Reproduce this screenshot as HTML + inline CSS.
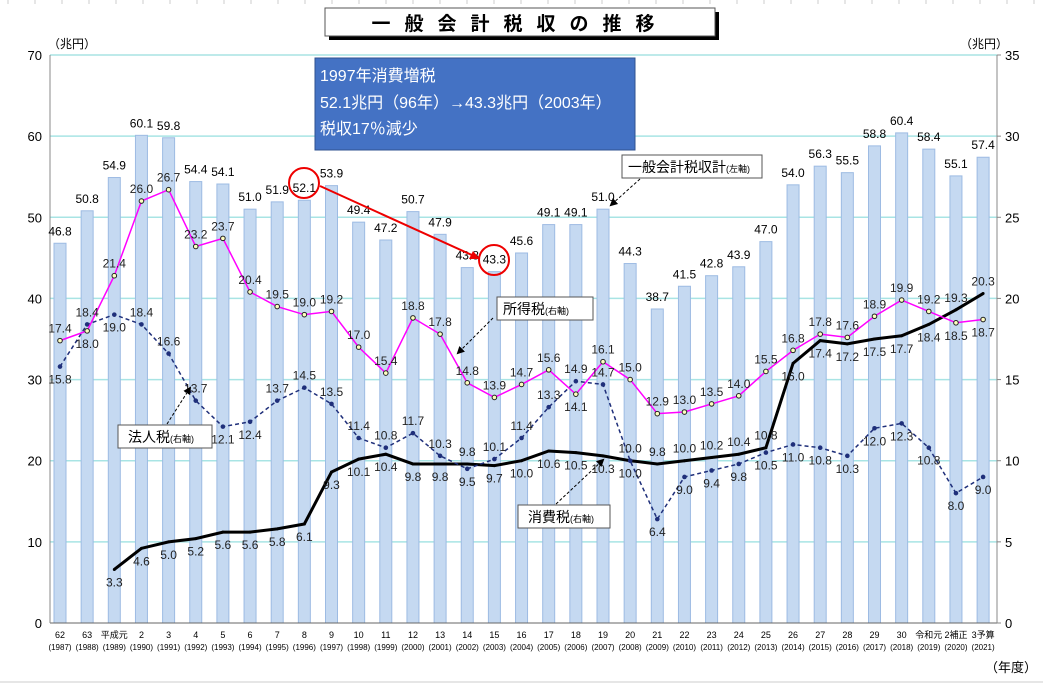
<!DOCTYPE html>
<html><head><meta charset="utf-8"><style>
html,body{margin:0;padding:0;background:#fff;}
svg{display:block;font-family:"Liberation Sans","Noto Sans CJK JP",sans-serif;}
</style></head><body>
<svg id="chart" width="1043" height="686" viewBox="0 0 1043 686" xmlns="http://www.w3.org/2000/svg">
<g id="sheet-grid"></g>
<g>
<rect x="329" y="12" width="390" height="28" fill="#000"/>
<rect x="325" y="8" width="390" height="28" fill="#fff" stroke="#555" stroke-width="1"/>
<text x="520" y="30" text-anchor="middle" font-size="19" letter-spacing="14" font-weight="bold">一般会計税収の推移</text>
</g>
<text x="48" y="48" font-size="12">（兆円）</text>
<text x="960" y="48" font-size="12">（兆円）</text>
<text x="985" y="672" font-size="13">（年度）</text>
<g id="grid"></g><g id="bars"></g><g id="axes"></g><g id="lines"></g><g id="labels"></g>
<g>
<rect x="315" y="58" width="320" height="92" fill="#4472C4" stroke="#2f528f"/>
<text x="320" y="81" font-size="16" fill="#fff">1997年消費増税</text>
<text x="320" y="108" font-size="16" fill="#fff">52.1兆円（96年）→43.3兆円（2003年）</text>
<text x="320" y="134" font-size="16" fill="#fff">税収17％減少</text>
</g>
<g>
<circle cx="304" cy="183" r="15" fill="none" stroke="#e00" stroke-width="2"/>
<circle cx="494" cy="260" r="15" fill="none" stroke="#e00" stroke-width="2"/>
<line x1="320" y1="186" x2="474" y2="256" stroke="#e00" stroke-width="2"/>
<polygon points="480,259 469,259 473,251" fill="#e00"/>
</g>
<defs><marker id="ah" markerWidth="8" markerHeight="8" refX="6" refY="4" orient="auto"><path d="M0,0 L8,4 L0,8 z" fill="#000"/></marker></defs>
<g>
<rect x="622" y="155" width="140" height="23" fill="#fff" stroke="#555"/>
<text x="628" y="172" font-size="14">一般会計税収計<tspan font-size="9">(左軸)</tspan></text>
<line x1="640" y1="179" x2="611" y2="205" stroke="#000" stroke-dasharray="3,2" marker-end="url(#ah)"/>
</g>
<g>
<rect x="497" y="297" width="96" height="23" fill="#fff" stroke="#555"/>
<text x="503" y="314" font-size="14">所得税<tspan font-size="9">(右軸)</tspan></text>
<line x1="493" y1="318" x2="458" y2="353" stroke="#000" stroke-dasharray="3,2" marker-end="url(#ah)"/>
</g>
<g>
<rect x="118" y="425" width="94" height="23" fill="#fff" stroke="#555"/>
<text x="128" y="442" font-size="14">法人税<tspan font-size="9">(右軸)</tspan></text>
<line x1="167" y1="424" x2="190" y2="388" stroke="#000" stroke-dasharray="3,2" marker-end="url(#ah)"/>
</g>
<g>
<rect x="518" y="505" width="92" height="23" fill="#fff" stroke="#555"/>
<text x="528" y="522" font-size="14">消費税<tspan font-size="9">(右軸)</tspan></text>
<line x1="556" y1="504" x2="603" y2="460" stroke="#000" stroke-dasharray="3,2" marker-end="url(#ah)"/>
</g>
</svg>
<script>
const eraLabels=["62","63","平成元","2","3","4","5","6","7","8","9","10","11","12","13","14","15","16","17","18","19","20","21","22","23","24","25","26","27","28","29","30","令和元","2補正","3予算"];
const years=[1987,1988,1989,1990,1991,1992,1993,1994,1995,1996,1997,1998,1999,2000,2001,2002,2003,2004,2005,2006,2007,2008,2009,2010,2011,2012,2013,2014,2015,2016,2017,2018,2019,2020,2021];
const totalRevenue=[46.8,50.8,54.9,60.1,59.8,54.4,54.1,51.0,51.9,52.1,53.9,49.4,47.2,50.7,47.9,43.8,43.3,45.6,49.1,49.1,51.0,44.3,38.7,41.5,42.8,43.9,47.0,54.0,56.3,55.5,58.8,60.4,58.4,55.1,57.4];
const incomeTax=[17.4,18.0,21.4,26.0,26.7,23.2,23.7,20.4,19.5,19.0,19.2,17.0,15.4,18.8,17.8,14.8,13.9,14.7,15.6,14.1,16.1,15.0,12.9,13.0,13.5,14.0,15.5,16.8,17.8,17.6,18.9,19.9,19.2,18.5,18.7];
const corporateTax=[15.8,18.4,19.0,18.4,16.6,13.7,12.1,12.4,13.7,14.5,13.5,11.4,10.8,11.7,10.3,9.5,10.1,11.4,13.3,14.9,14.7,10.0,6.4,9.0,9.4,9.8,10.5,11.0,10.8,10.3,12.0,12.3,10.8,8.0,9.0];
const consumptionTax=[null,null,3.3,4.6,5.0,5.2,5.6,5.6,5.8,6.1,9.3,10.1,10.4,9.8,9.8,9.8,9.7,10.0,10.6,10.5,10.3,10.0,9.8,10.0,10.2,10.4,10.8,16.0,17.4,17.2,17.5,17.7,18.4,19.3,20.3];
const leftTicks=[0,10,20,30,40,50,60,70];
const rightTicks=[0,5,10,15,20,25,30,35];
// label side: 1 above, -1 below
const incSide=[1,-1,1,1,1,1,1,1,1,1,1,1,1,1,1,1,1,1,1,-1,1,1,1,1,1,1,1,1,1,1,1,1,1,-1,-1];
const corSide=[-1,1,-1,1,1,1,-1,-1,1,1,1,1,1,1,1,-1,1,1,1,1,1,1,-1,-1,-1,-1,-1,-1,-1,-1,-1,-1,-1,-1,-1];
const conSide=[0,0,-1,-1,-1,-1,-1,-1,-1,-1,-1,-1,-1,-1,-1,1,-1,-1,-1,-1,-1,-1,1,1,1,1,1,-1,-1,-1,-1,-1,-1,1,1];

const NS="http://www.w3.org/2000/svg";
const X0=60,DX=27.15,Y0=623,PH=568,L=50,R=997;
const xs=i=>X0+i*DX;
const yL=v=>Y0-v/70*PH;
const yR=v=>Y0-v/35*PH;
function mk(tag,attrs,parent,txt){const e=document.createElementNS(NS,tag);for(const k in attrs)e.setAttribute(k,attrs[k]);if(txt!==undefined)e.textContent=txt;document.getElementById(parent).appendChild(e);return e;}

for(let x=8;x<1043;x+=27){const e=mk('line',{x1:x,y1:0,x2:x,y2:4,stroke:'#ccc'},'sheet-grid');

}
{const e=mk('line',{x1:0,y1:682,x2:1043,y2:682,stroke:'#ccc'},'sheet-grid');

}

leftTicks.forEach((t,k)=>{
 if(t>0){const g=mk('line',{x1:L,y1:yL(t),x2:R,y2:yL(t),stroke:'#a8e4e4','stroke-width':1.5},'grid');
 
 }
 const a=mk('text',{x:L-8,y:yL(t)+5,'text-anchor':'end','font-size':13},'axes',String(t));
 
 
});
rightTicks.forEach(t=>{
 const a=mk('text',{x:R+8,y:yR(t)+5,'font-size':13},'axes',String(t));
 
 
 const tk=mk('line',{x1:R,y1:yR(t),x2:R+4,y2:yR(t),stroke:'#888'},'axes');
 
 
});
{const a=mk('line',{x1:L,y1:Y0,x2:R,y2:Y0,stroke:'#666'},'axes');
const b=mk('line',{x1:L,y1:55,x2:L,y2:Y0,stroke:'#888'},'axes');
const c=mk('line',{x1:R,y1:55,x2:R,y2:Y0,stroke:'#888'},'axes');}

totalRevenue.forEach((v,i)=>{
 const b=mk('rect',{x:xs(i)-6,y:yL(v),width:12,height:Y0-yL(v),fill:'#c5d9f1',stroke:'#9dbbe3','stroke-width':1},'bars');
 
 
 const t=mk('text',{x:xs(i),y:yL(v)-8,'text-anchor':'middle','font-size':12},'labels',v.toFixed(1));
 
 
 const e=mk('text',{x:xs(i),y:638,'text-anchor':'middle','font-size':9},'axes',eraLabels[i]);
 
 
 const y=mk('text',{x:xs(i),y:650,'text-anchor':'middle','font-size':8},'axes','('+years[i]+')');
 
 
});

function series(vals,sides,color,w,dash,marker,name){
 const pts=[];vals.forEach((v,i)=>{if(v!==null)pts.push(xs(i)+','+yR(v));});
 const p=mk('polyline',{points:pts.join(' '),fill:'none',stroke:color,'stroke-width':w,'stroke-dasharray':dash||'none'},'lines');
 
 
 vals.forEach((v,i)=>{if(v===null)return;
  let m;
  if(marker==='o')m=mk('circle',{cx:xs(i),cy:yR(v),r:2.3,fill:'#ffffc0',stroke:'#222','stroke-width':1},'lines');
  else if(marker==='d')m=mk('circle',{cx:xs(i),cy:yR(v),r:2.3,fill:color},'lines');
  else m=mk('circle',{cx:xs(i),cy:yR(v),r:1.5,fill:color},'lines');
  
  
  const s=sides[i];
  const t=mk('text',{x:xs(i),y:s>0?yR(v)-8:yR(v)+17,'text-anchor':'middle','font-size':12,fill:'#222'},'labels',v.toFixed(1));
  
  
 });
}
series(consumptionTax,conSide,'#000',3,null,'s','consumption-tax');
series(corporateTax,corSide,'#1f2f7a',1.5,'4,3','d','corporate-tax');
series(incomeTax,incSide,'#ff00ff',1.5,null,'o','income-tax');
</script>
</body></html>
